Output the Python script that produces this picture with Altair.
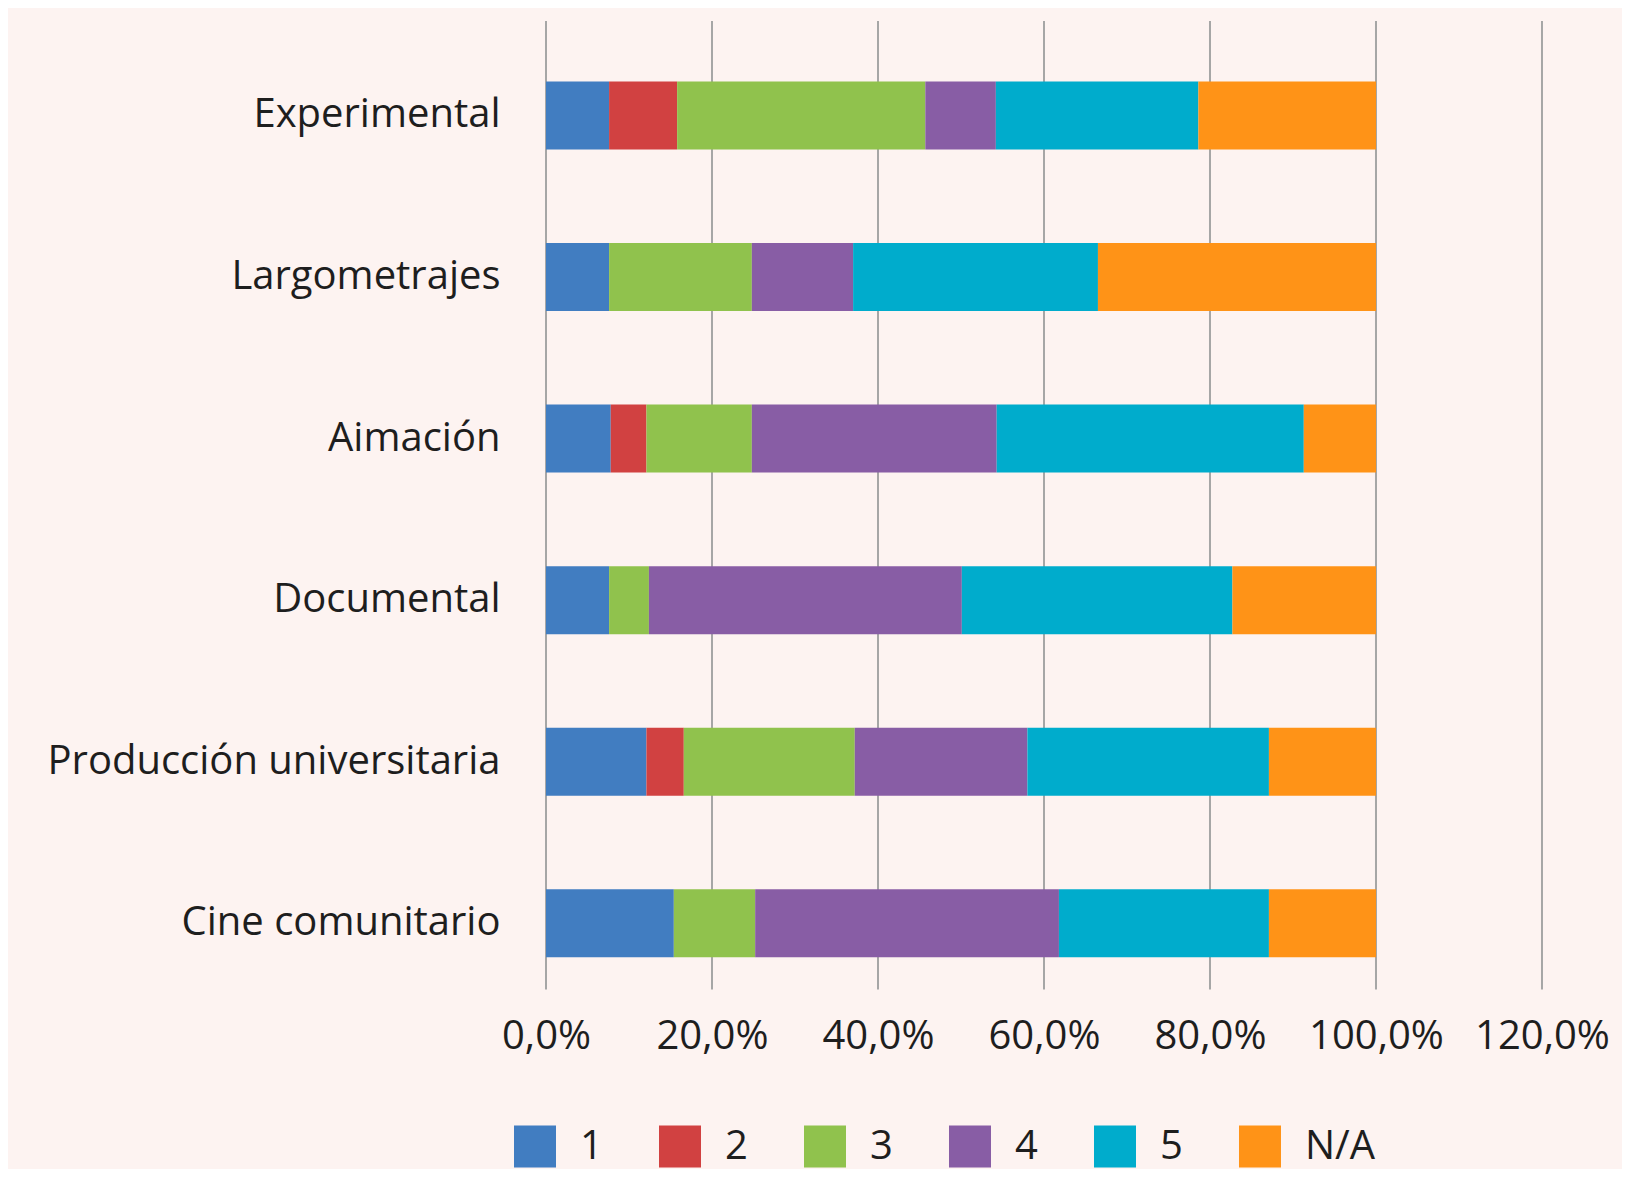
import altair as alt
import pandas as pd

categories = ["Experimental", "Largometrajes", "Aimación", "Documental",
              "Producción universitaria", "Cine comunitario"]
series = ["1", "2", "3", "4", "5", "N/A"]
s1 = [7.6, 7.6, 7.8, 7.6, 12.1, 15.4]
s2 = [8.2, 0.0, 4.3, 0.0, 4.5, 0.0]
s3 = [29.9, 17.2, 12.7, 4.8, 20.6, 9.8]
s4 = [8.5, 12.2, 29.5, 37.7, 20.8, 36.6]
s5 = [24.4, 29.5, 37.0, 32.6, 29.1, 25.3]
sNA = [21.4, 33.5, 8.7, 17.3, 12.9, 12.9]
colors = ["#417DC1", "#D14141", "#90C24D", "#885DA5", "#00ACCC", "#FF9317"]
ticks = [0, 20, 40, 60, 80, 100, 120]

rows = []
for si, (name, vals) in enumerate(zip(series, [s1, s2, s3, s4, s5, sNA])):
    for c, v in zip(categories, vals):
        rows.append({"cat": c, "serie": name, "order": si, "value": v})
df = pd.DataFrame(rows)
grid_df = pd.DataFrame({"t": ticks})

W = 996
H = 969.6
FONT = "Open Sans"

xscale = alt.Scale(domain=[0, 120], nice=False, zero=True)
xaxis = alt.Axis(values=ticks, grid=False, domain=False, ticks=False,
                 labelFont=FONT, labelFontSize=40, labelColor="#1E1E1E",
                 labelPadding=12, title=None, labelOverlap=False,
                 labelFlush=False, labelAlign="center",
                 labelExpr="replace(format(datum.value, '.1f'), '.', ',') + '%'")

grid = alt.Chart(grid_df).mark_rule(color="#A6A6A6", strokeWidth=2).encode(
    x=alt.X("t:Q", scale=xscale, axis=xaxis),
    y=alt.value(-13.6),
    y2=alt.value(H - 14.6),
)

bars = alt.Chart(df).mark_bar(size=68).encode(
    x=alt.X("value:Q", stack="zero", scale=xscale, axis=xaxis),
    y=alt.Y("cat:N", sort=categories,
            scale=alt.Scale(paddingInner=0.579, paddingOuter=0.29),
            axis=alt.Axis(domain=False, ticks=False, grid=False, labelFont=FONT,
                          labelFontSize=40, labelColor="#1E1E1E", labelPadding=46,
                          labelLimit=600, title=None)),
    color=alt.Color("serie:N", sort=series,
                    scale=alt.Scale(domain=series, range=colors),
                    legend=alt.Legend(title=None, orient="none", direction="horizontal",
                                      columns=6, legendX=-32, legendY=1091,
                                      symbolType="square", symbolSize=1764,
                                      symbolStrokeWidth=0, symbolOpacity=1,
                                      labelFont=FONT, labelFontSize=40,
                                      labelColor="#1E1E1E", labelOffset=24,
                                      columnPadding=56)),
    order=alt.Order("order:Q"),
)

chart = alt.layer(grid, bars).properties(
    width=W, height=H,
    autosize=alt.AutoSizeParams(type="none"),
    padding={"left": 538, "top": 26.6, "right": 80, "bottom": 165},
    background="#FDF3F1",
).configure_view(stroke=None)

chart.save("out.html", embed_options={"renderer": "svg", "actions": False})
